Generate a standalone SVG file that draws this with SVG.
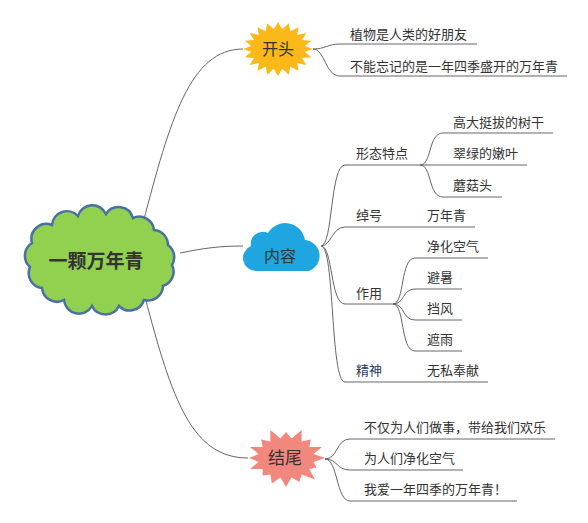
<svg xmlns="http://www.w3.org/2000/svg" width="588" height="523" viewBox="0 0 588 523">
<style>
.ln{fill:none;stroke:#666;stroke-width:1}
.t{font-family:"Noto Sans CJK SC","Noto Sans",sans-serif;font-size:13px;fill:#333}
.tn{font-family:"Noto Sans CJK SC","Noto Sans",sans-serif;fill:#333;text-anchor:middle}
</style>
<rect width="588" height="523" fill="#fff"/>
<g id="connectors">
<path class="ln" d="M143,223 C170,120 190,49 243,49"/>
<path class="ln" d="M180,253 C205,248 220,246 243,246"/>
<path class="ln" d="M145,297 C172,400 192,458 248,458"/>
<path class="ln" d="M313,49 C325,49 328,44 340,44 H477"/>
<path class="ln" d="M313,49 C325,49 325,76 340,76 H567"/>
<path class="ln" d="M321,246 C333,246 330,165 345,165 H420"/>
<path class="ln" d="M321,246 C331,246 332,227 345,227 H475"/>
<path class="ln" d="M321,246 C333,246 330,304 345,304 H393"/>
<path class="ln" d="M321,246 C335,246 330,382 345,382 H488"/>
<path class="ln" d="M420,165 C432,165 428,133 443,133 H553"/>
<path class="ln" d="M420,165 H527"/>
<path class="ln" d="M420,165 C432,165 428,197 443,197 H502"/>
<path class="ln" d="M393,304 C405,304 400,258 415,258 H488"/>
<path class="ln" d="M393,304 C405,304 402,289 415,289 H462"/>
<path class="ln" d="M393,304 C405,304 402,320 415,320 H462"/>
<path class="ln" d="M393,304 C405,304 400,351 415,351 H462"/>
<path class="ln" d="M325,459 C338,459 336,439 350,439 H555"/>
<path class="ln" d="M325,459 C338,459 336,470 350,470 H463"/>
<path class="ln" d="M325,459 C338,459 336,501 350,501 H517"/>
</g>
<g id="root">
<path d="M32,243 A15,15 0 0 1 52,225 A15,15 0 0 1 78,216 A15,15 0 0 1 106,214 A15,15 0 0 1 133,218 A15,15 0 0 1 154,230 A15,15 0 0 1 168,245 A15,15 0 0 1 172,265 A15,15 0 0 1 163,286 A15,15 0 0 1 144,300 A15,15 0 0 1 119,306 A15,15 0 0 1 92,306 A15,15 0 0 1 64,300 A15,15 0 0 1 42,288 A15,15 0 0 1 30,267 A15,15 0 0 1 32,243 Z" fill="#92D050" stroke="#4A6FA5" stroke-width="2.5"/>
<text x="96" y="268" class="tn" font-size="19" font-weight="bold" fill="#111">一颗万年青</text>
</g>
<g id="kaitou">
<polygon transform="translate(278,49)" fill="#FAB919" points="35,0 26.7,3.1 33.3,8.3 24.1,9.1 28.3,15.9 19.1,14.1 20.6,21.8 12.3,17.8 10.8,25.7 4.2,19.8 0,27 -4.2,19.8 -10.8,25.7 -12.3,17.8 -20.6,21.8 -19.1,14.1 -28.3,15.9 -24.1,9.1 -33.3,8.3 -26.7,3.1 -35,0 -26.7,-3.1 -33.3,-8.3 -24.1,-9.1 -28.3,-15.9 -19.1,-14.1 -20.6,-21.8 -12.3,-17.8 -10.8,-25.7 -4.2,-19.8 0,-27 4.2,-19.8 10.8,-25.7 12.3,-17.8 20.6,-21.8 19.1,-14.1 28.3,-15.9 24.1,-9.1 33.3,-8.3 26.7,-3.1"/>
<text x="278" y="55" class="tn" font-size="16">开头</text>
</g>
<g id="neirong">
<path d="M256,271 A13,13 0 0 1 251,246 A12,12 0 0 1 268,233 A20,20 0 0 1 305,240 A16,16 0 0 1 309,271 Z" fill="#1FA5DF"/>
<text x="280" y="262" class="tn" font-size="16">内容</text>
</g>
<g id="jiewei">
<polygon transform="translate(286,458)" fill="#F2877E" points="39,0 27.5,3.9 30.6,9.4 23.3,11.1 29,21.5 15.6,16.6 13.4,24.1 5.5,19.6 0,29 -5.5,19.6 -14.2,25.4 -15.6,16.6 -23.4,17.4 -23.3,11.1 -36,11.1 -27.5,3.9 -37,0 -27.5,-3.9 -36,-11.1 -23.3,-11.1 -24.8,-18.5 -15.6,-16.6 -15.7,-28.1 -5.5,-19.6 0,-26.1 5.5,-19.6 15.7,-28.1 15.6,-16.6 24.8,-18.5 23.3,-11.1 36,-11.1 27.5,-3.9"/>
<text x="285" y="464" class="tn" font-size="17">结尾</text>
</g>
<g id="kt-1"><text x="350" y="39" class="t">植物是人类的好朋友</text></g>
<g id="kt-2"><text x="350" y="71" class="t">不能忘记的是一年四季盛开的万年青</text></g>
<g id="xingtai"><text x="356" y="158" class="t">形态特点</text></g>
<g id="xt-1"><text x="453" y="127" class="t">高大挺拔的树干</text></g>
<g id="xt-2"><text x="453" y="158" class="t">翠绿的嫩叶</text></g>
<g id="xt-3"><text x="453" y="190" class="t">蘑菇头</text></g>
<g id="chuohao"><text x="356" y="220" class="t">绰号</text></g>
<g id="ch-1"><text x="427" y="220" class="t">万年青</text></g>
<g id="zuoyong"><text x="356" y="298" class="t">作用</text></g>
<g id="zy-1"><text x="427" y="251" class="t">净化空气</text></g>
<g id="zy-2"><text x="427" y="282" class="t">避暑</text></g>
<g id="zy-3"><text x="427" y="313" class="t">挡风</text></g>
<g id="zy-4"><text x="427" y="344" class="t">遮雨</text></g>
<g id="jingshen"><text x="356" y="375" class="t" fill="#1F3864" style="fill:#1F3864">精神</text></g>
<g id="js-1"><text x="427" y="375" class="t">无私奉献</text></g>
<g id="jw-1"><text x="364" y="432" class="t">不仅为人们做事，带给我们欢乐</text></g>
<g id="jw-2"><text x="364" y="463" class="t">为人们净化空气</text></g>
<g id="jw-3"><text x="364" y="494" class="t">我爱一年四季的万年青！</text></g>
</svg>
